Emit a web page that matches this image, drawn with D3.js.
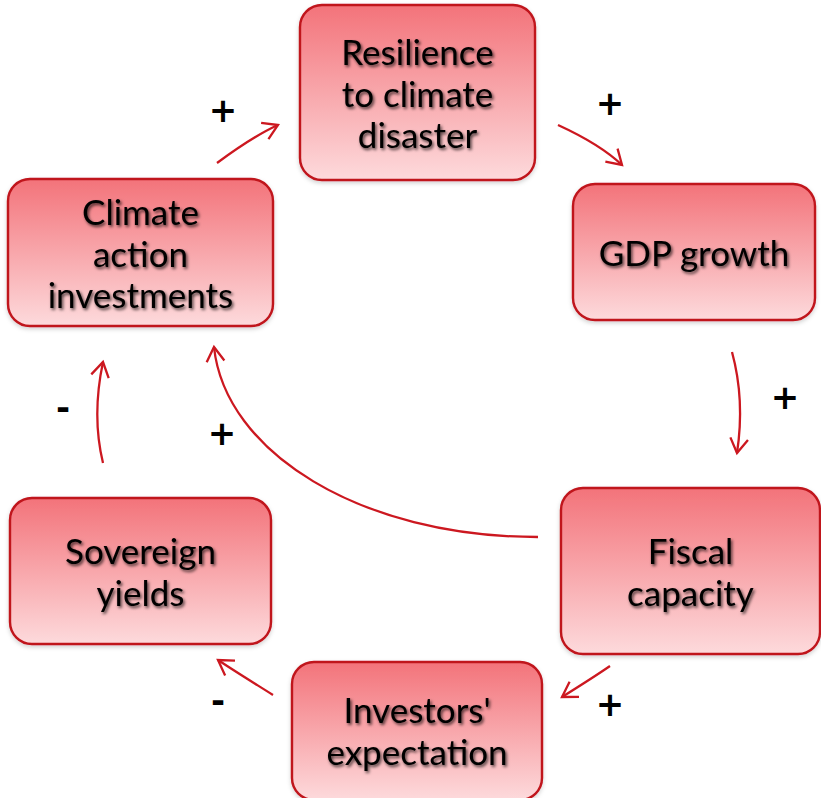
<!DOCTYPE html>
<html><head><meta charset="utf-8">
<script src="https://cdn.jsdelivr.net/npm/d3@7"></script>
<style>body{margin:0;background:#fff}svg{display:block}</style>
</head><body>
<svg id="c" width="821" height="798"></svg>
<script>
// ---- data ----
const nodeIds = ["resilience","gdp","fiscal","investors","sovereign","climate"];
const nodeLabels = [
  ["Resilience","to climate","disaster"],
  ["GDP growth"],
  ["Fiscal","capacity"],
  ["Investors'","expectation"],
  ["Sovereign","yields"],
  ["Climate","action","investments"]
];
const linkSources = ["climate","resilience","gdp","fiscal","investors","sovereign","fiscal"];
const linkTargets = ["resilience","gdp","fiscal","investors","sovereign","climate","climate"];
const linkSigns   = ["+","+","+","+","-","-","+"];

// ---- layout (geometry) ----
const boxes = {
  resilience:[300,5,535,180],
  gdp:[573,184,815,320],
  fiscal:[561,488,820,654],
  investors:[292,662,542,800],
  sovereign:[10,498,271,644],
  climate:[8,179,273,326]
};
// arrow paths: [tail, control1, control2, tip]
const arrowGeom = [
  [[217,163],[240,146],[258,134],[278,125]],
  [[558,125],[582,136],[604,148],[622,165]],
  [[732,352],[741,385],[742,420],[737,453]],
  [[610,666],[594,677],[578,687],[562,697]],
  [[273,695],[254,683],[236,672],[218,660]],
  [[103,463],[95,430],[96,395],[103,362]],
  [[538,537],[360,537],[225,452],[214,347]]
];
const signPos = [[223,110],[610,103],[785,397],[610,704],[218,700],[63,407],[222,433]];

const svg = d3.select("#c");
const defs = svg.append("defs");
const grad = defs.append("linearGradient").attr("id","g").attr("x1",0).attr("y1",0).attr("x2",0).attr("y2",1);
grad.append("stop").attr("offset","0%").attr("stop-color","#f3737a");
grad.append("stop").attr("offset","100%").attr("stop-color","#fddadc");
const f = defs.append("filter").attr("id","ts").attr("x","-20%").attr("y","-30%").attr("width","140%").attr("height","160%");
f.append("feDropShadow").attr("dx",1.5).attr("dy",2).attr("stdDeviation",1.8).attr("flood-color","#000").attr("flood-opacity",0.7);
const bf = defs.append("filter").attr("id","bs").attr("x","-10%").attr("y","-10%").attr("width","120%").attr("height","130%");
bf.append("feDropShadow").attr("dx",0).attr("dy",2).attr("stdDeviation",2).attr("flood-color","#000").attr("flood-opacity",0.18);

const red = "#c0141c";

// boxes
const nodes = nodeIds.map((id,i)=>({id, lines:nodeLabels[i], b:boxes[id]}));
const g = svg.selectAll("g.node").data(nodes).join("g").attr("class","node");
g.append("rect")
  .attr("x",d=>d.b[0]).attr("y",d=>d.b[1])
  .attr("width",d=>d.b[2]-d.b[0]).attr("height",d=>d.b[3]-d.b[1])
  .attr("rx",22).attr("ry",22)
  .attr("fill","url(#g)").attr("stroke",red).attr("stroke-width",2.4)
  .attr("filter","url(#bs)");
const lh = 41.5;
g.append("text")
  .attr("font-family","Lato, 'Open Sans', sans-serif")
  .attr("font-size",35)
  .attr("fill","#000")
  .attr("text-anchor","middle")
  .attr("filter","url(#ts)")
  .each(function(d){
    const cx=(d.b[0]+d.b[2])/2;
    let cy=(d.b[1]+Math.min(d.b[3],798))/2;
    if(d.id==="investors") cy=730;
    const n=d.lines.length;
    d3.select(this).selectAll("tspan").data(d.lines).join("tspan")
      .attr("x",cx).attr("y",(l,i)=>cy+(i-(n-1)/2)*lh)
      .attr("dominant-baseline","central")
      .text(l=>l);
  });

// arrows
const links = linkSources.map((s,i)=>({s,t:linkTargets[i],sign:linkSigns[i],p:arrowGeom[i],sp:signPos[i]}));
const line = p=>{const pa=d3.path();pa.moveTo(...p[0]);pa.bezierCurveTo(...p[1],...p[2],...p[3]);return pa.toString();};
svg.selectAll("path.link").data(links).join("path").attr("class","link")
  .attr("d",d=>line(d.p)).attr("fill","none").attr("stroke","#cc1820").attr("stroke-width",2.3);
svg.selectAll("path.head").data(links).join("path").attr("class","head")
  .attr("d",d=>{
    const tip=d.p[3], c=d.p[2];
    const a=Math.atan2(tip[1]-c[1],tip[0]-c[0]);
    const L=17, w=0.55;
    const p1=[tip[0]-L*Math.cos(a-w),tip[1]-L*Math.sin(a-w)];
    const p2=[tip[0]-L*Math.cos(a+w),tip[1]-L*Math.sin(a+w)];
    return `M${p1}L${tip}L${p2}`;
  })
  .attr("fill","none").attr("stroke","#cc1820").attr("stroke-width",2.3).attr("stroke-linejoin","miter");

// signs
svg.selectAll("text.sign").data(links).join("text").attr("class","sign")
  .attr("x",d=>d.sp[0]).attr("y",d=>d.sp[1])
  .attr("text-anchor","middle").attr("dominant-baseline","central")
  .attr("font-family","'DejaVu Sans', sans-serif").attr("font-weight","bold")
  .attr("font-size",34)
  .attr("fill","#000")
  .text(d=>d.sign);
</script>
</body></html>
